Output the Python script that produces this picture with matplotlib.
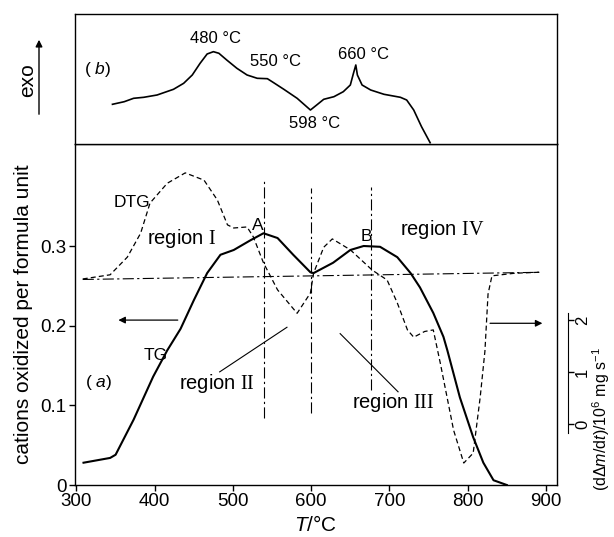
import numpy as np
import matplotlib
matplotlib.use('Agg')
import matplotlib.pyplot as plt

plt.rcParams['font.family'] = ['Liberation Sans', 'DejaVu Sans']
plt.rcParams['mathtext.fontset'] = 'custom'
plt.rcParams['mathtext.rm'] = 'Liberation Sans'
plt.rcParams['mathtext.it'] = 'Liberation Sans:italic'
plt.rcParams['mathtext.sf'] = 'Liberation Sans'
plt.rcParams['mathtext.tt'] = 'Liberation Serif'

# (a) TG: cations oxidized per formula unit
tg_T = [309, 343, 350, 373, 398, 416, 433, 450, 467, 484, 501, 522, 539, 557,
        577, 599, 603, 628, 650, 667, 688, 710, 727, 739, 756, 769, 774, 790,
        807, 820, 833, 850]
tg_v = [0.028, 0.034, 0.038, 0.082, 0.136, 0.169, 0.196, 0.232, 0.266, 0.289,
        0.295, 0.307, 0.316, 0.310, 0.289, 0.267, 0.266, 0.279, 0.295, 0.300,
        0.299, 0.286, 0.266, 0.248, 0.216, 0.186, 0.169, 0.110, 0.060, 0.028,
        0.006, 0.0]

# (a) DTG, right-hand scale (dΔm/dt)/10^6 mg s^-1
dtg_T = [308, 343, 365, 382, 394, 416, 439, 463, 480, 493, 501, 518, 526, 539,
         557, 582, 599, 603, 616, 627, 650, 678, 697, 710, 723, 731, 745, 756,
         765, 782, 795, 807, 816, 822, 826, 831, 860, 893]
dtg_d = [2.79, 2.87, 3.21, 3.67, 4.25, 4.63, 4.83, 4.69, 4.31, 3.83, 3.77, 3.79,
         3.60, 3.10, 2.58, 2.13, 2.52, 2.90, 3.40, 3.56, 3.35, 2.96, 2.77, 2.33,
         1.81, 1.67, 1.78, 1.81, 1.17, -0.12, -0.75, -0.56, 0.52, 1.4, 2.5,
         2.85, 2.90, 2.92]

# (b) DTA trace (arbitrary units, exo up)
dta_T = [346, 361, 373, 386, 403, 424, 437, 448, 458, 467, 475, 482, 492, 505,
         518, 531, 544, 552, 565, 582, 599, 607, 616, 629, 641, 650, 654, 657,
         659, 665, 676, 693, 714, 722, 731, 741, 752]
dta_u = [39.7, 42.3, 45.7, 46.7, 49, 54.7, 60.7, 69, 80.7, 90, 92.3, 90.7, 84,
         75.7, 69, 65.7, 65.3, 61.3, 54.7, 45.7, 34, 39, 44.7, 47.3, 52.3, 59,
         70.7, 79, 69, 59, 54, 49.7, 46.7, 44, 34, 17.3, 1.3]

# region boundaries
bound_T = [540, 600, 676]
bound_lo = [0.084, 0.090, 0.119]
bound_hi = [0.385, 0.373, 0.374]
base_T = [308, 893]
base_v = [0.258, 0.267]

fig = plt.figure(figsize=(6.14, 5.37), dpi=100)
ax = fig.add_axes([0.122, 0.0968, 0.785, 0.635])
axb = fig.add_axes([0.122, 0.7318, 0.785, 0.2422], sharex=ax)

fs = 13.5
fr = 14.5
ax.plot(tg_T, tg_v, color='black', lw=1.5)
for T, lo, hi in zip(bound_T, bound_lo, bound_hi):
    ax.plot([T, T], [lo, hi], color='black', lw=0.8, dashes=(10, 3, 2, 3))
ax.plot(base_T, base_v, color='black', lw=0.8, dashes=(10, 3, 2, 3))

ax.set_xlim(298, 914)
ax.set_ylim(0, 0.428)
ax.set_xticks([300, 400, 500, 600, 700, 800, 900])
ax.set_yticks([0, 0.1, 0.2, 0.3])
ax.set_yticklabels(['0', '0.1', '0.2', '0.3'])
ax.tick_params(labelsize=fs, length=4, width=1, pad=2)
ax.tick_params(axis='x', top=True, direction='out')
ax.set_xlabel(r'$T$/°C', fontsize=15, labelpad=3)
ax.set_ylabel('cations oxidized per formula unit', fontsize=15, labelpad=5)
for s in ax.spines.values():
    s.set_linewidth(1)

# DTG on its own scale
ax2 = ax.twinx()
ax2.plot(dtg_T, dtg_d, color='black', lw=0.9, dashes=(4, 2.5))
ax2.set_ylim(-1.173, 5.385)
ax2.spines['right'].set_position(('outward', 8))
ax2.spines['right'].set_bounds(-0.17, 2.13)
ax2.spines['top'].set_visible(False)
ax2.spines['left'].set_visible(False)
ax2.spines['bottom'].set_visible(False)
ax2.set_yticks([0, 1, 2])
ax2.tick_params(axis='y', labelsize=12, length=4, width=1, pad=1,
                labelrotation=90)
for lab in ax2.get_yticklabels():
    lab.set_va('center')
fig.text(0.979, 0.22, r'(d$\Delta$$m$/d$t$)/10$^{\mathsf{6}}$ mg s$^{\mathsf{-1}}$',
         rotation=90, ha='center', va='center', fontsize=11.5)

# arrows pointing to the scales
ax.annotate('', xy=(350, 0.207), xytext=(433, 0.207),
            arrowprops=dict(arrowstyle='-|>', color='black', lw=0.9,
                            mutation_scale=10))
ax.annotate('', xy=(899, 0.203), xytext=(825, 0.203),
            arrowprops=dict(arrowstyle='-|>', color='black', lw=0.9,
                            mutation_scale=10))

# annotations in (a)
ax.text(371, 0.354, 'DTG', fontsize=fs - 1, ha='center', va='center')
ax.text(435, 0.31, r'region $\mathtt{I}$', fontsize=fr, ha='center', va='center')
ax.text(532, 0.326, 'A', fontsize=fs - 1, ha='center', va='center')
ax.text(671, 0.312, 'B', fontsize=fs - 1, ha='center', va='center')
ax.text(768, 0.321, r'region $\mathtt{IV}$', fontsize=fr, ha='center', va='center')
ax.text(401, 0.163, 'TG', fontsize=fs - 1, ha='center', va='center')
ax.text(328, 0.129, r'( $a$)', fontsize=fs - 1, ha='center', va='center')
ax.text(480, 0.128, r'region $\mathtt{II}$', fontsize=fr, ha='center', va='center')
ax.plot([483, 569], [0.142, 0.198], color='black', lw=0.8)
ax.text(705, 0.104, r'region $\mathtt{III}$', fontsize=fr, ha='center', va='center')
ax.plot([711, 637], [0.117, 0.19], color='black', lw=0.8)

# (b) DTA
axb.plot(dta_T, dta_u, color='black', lw=1.2)
axb.set_ylim(0, 130)
axb.set_yticks([])
axb.tick_params(axis='x', bottom=False, labelbottom=False)
for s in axb.spines.values():
    s.set_linewidth(1)
axb.text(327, 74, r'( $b$)', fontsize=fs - 1, ha='center', va='center')
axb.text(478, 105, '480 °C', fontsize=12, ha='center', va='center')
axb.text(555, 82, '550 °C', fontsize=12, ha='center', va='center')
axb.text(604, 21, '598 °C', fontsize=12, ha='center', va='center')
axb.text(667, 89, '660 °C', fontsize=12, ha='center', va='center')

# exo arrow
fig.text(28 / 614, 1 - 80 / 537, 'exo', rotation=90, fontsize=15,
         ha='center', va='center')
fig.add_artist(matplotlib.patches.FancyArrowPatch(
    (39 / 614, 1 - 117 / 537), (39 / 614, 1 - 37 / 537),
    transform=fig.transFigure, arrowstyle='-|>', mutation_scale=10,
    color='black', lw=1))

fig.savefig('out.png', dpi=100)
